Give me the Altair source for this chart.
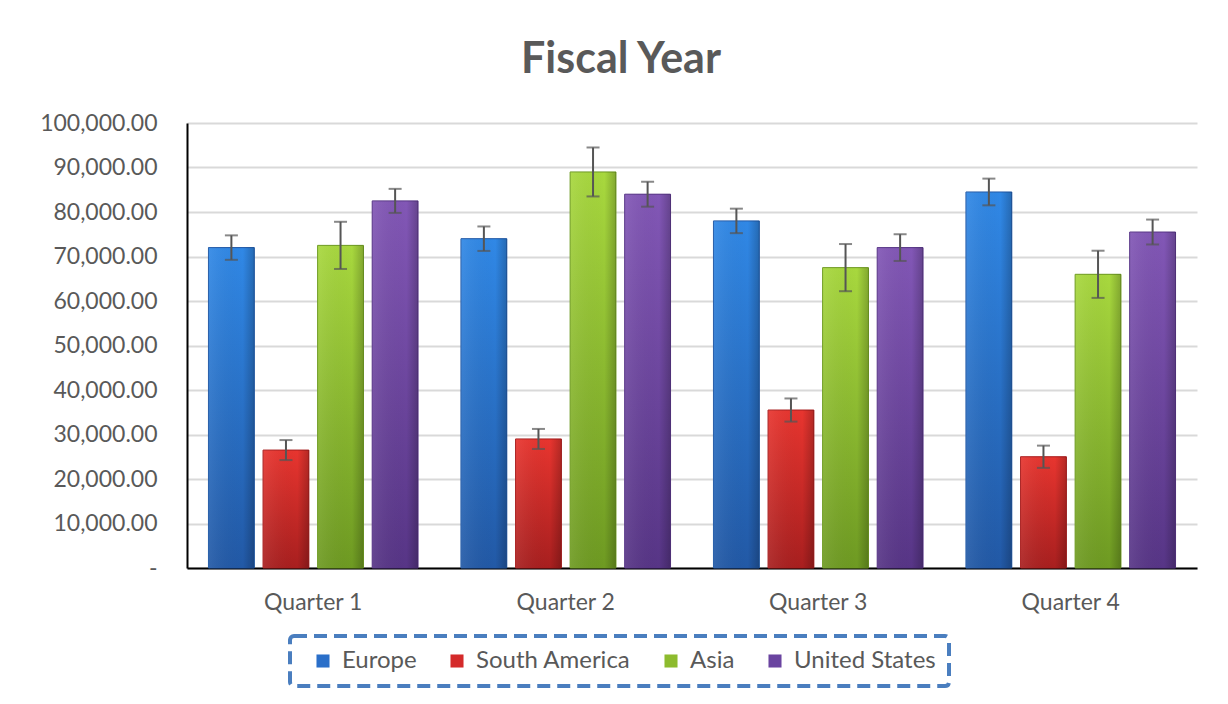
import altair as alt
import pandas as pd

quarters = ["Quarter 1", "Quarter 2", "Quarter 3", "Quarter 4"]
regions = ["Europe", "South America", "Asia", "United States"]

europe = [72000, 74000, 78000, 84500]
south_america = [26500, 29000, 35500, 25000]
asia = [72500, 89000, 67500, 66000]
united_states = [82500, 84000, 72000, 75500]

europe_err = [2750, 2750, 2750, 3000]
south_america_err = [2250, 2250, 2600, 2500]
asia_err = [5300, 5500, 5300, 5300]
united_states_err = [2700, 2800, 3000, 2800]

flat_colors = ["#2a6fc9", "#d42a2a", "#8dbb2e", "#6a44a0"]
grad_top = ["#3088e6", "#e8352f", "#a8d83e", "#8257b6"]
grad_bot = ["#2259a6", "#a81f1f", "#6e9a22", "#573586"]

series = [europe, south_america, asia, united_states]
errs = [europe_err, south_america_err, asia_err, united_states_err]

rows = []
for r, vals, ers in zip(regions, series, errs):
    for q, v, e in zip(quarters, vals, ers):
        rows.append({"quarter": q, "region": r, "value": v, "lo": v - e, "hi": v + e})
df = pd.DataFrame(rows)

FONT = "Lato"
TXT = "#595959"

x_enc = alt.X(
    "quarter:N",
    sort=quarters,
    scale=alt.Scale(paddingInner=0.17, paddingOuter=0.085),
    axis=alt.Axis(
        title=None, labelAngle=0, labelFontSize=23, labelColor=TXT, labelFont=FONT,
        labelPadding=23, ticks=False, domain=True, domainColor="#000000",
        domainWidth=2, grid=False,
    ),
)
xoff_enc = alt.XOffset("region:N", scale=alt.Scale(domain=regions, paddingInner=0.16, paddingOuter=0.0))

y_scale = alt.Scale(domain=[0, 100000])
y_axis = alt.Axis(
    title=None, values=list(range(0, 100001, 10000)),
    labelExpr="datum.value == 0 ? '-\u3000' : format(datum.value, ',.2f')",
    labelFontSize=23, labelColor=TXT, labelFont=FONT, labelPadding=30,
    ticks=False, domain=True, domainColor="#000000", domainWidth=2,
    grid=True, gridColor="#d9d9d9", gridWidth=2,
)

base = alt.Chart(df).encode(x=x_enc, xOffset=xoff_enc)

legend_layer = base.mark_bar().encode(
    y=alt.Y("value:Q", scale=y_scale, axis=y_axis),
    color=alt.Color(
        "region:N",
        scale=alt.Scale(domain=regions, range=flat_colors),
        legend=alt.Legend(
            title="\u2007", titleOrient="left", titleFontSize=24, titlePadding=8,
            orient="none", legendX=103, legendY=513, direction="horizontal",
            symbolType="square", symbolSize=170, symbolStrokeWidth=0,
            labelFontSize=24, labelColor=TXT, labelFont=FONT, labelOffset=7,
            columnPadding=28, padding=13, strokeColor="#4a7ebf", cornerRadius=4,
        ),
    ),
)

layers = [legend_layer]
for r, top, bot in zip(regions, grad_top, grad_bot):
    layers.append(
        base.transform_filter(alt.datum.region == r)
        .mark_bar(
            fill=alt.Gradient(
                gradient="linear", x1=0, x2=0, y1=0, y2=1,
                stops=[alt.GradientStop(offset=0, color=top), alt.GradientStop(offset=1, color=bot)],
            ),
            stroke=bot, strokeWidth=1,
        )
        .encode(y=alt.Y("value:Q", scale=y_scale))
    )

shade = base.mark_bar(
    fill=alt.Gradient(
        gradient="linear", x1=0, x2=1, y1=0, y2=0,
        stops=[
            alt.GradientStop(offset=0, color="rgba(255,255,255,0.08)"),
            alt.GradientStop(offset=0.75, color="rgba(0,0,0,0)"),
            alt.GradientStop(offset=1, color="rgba(0,0,0,0.22)"),
        ],
    ),
).encode(y=alt.Y("value:Q", scale=y_scale))
layers.append(shade)

rules = base.mark_rule(color="#555555", strokeWidth=2).encode(
    y=alt.Y("lo:Q", scale=y_scale), y2="hi:Q"
)
cap_lo = base.mark_tick(color="#555555", thickness=2, size=13).encode(y=alt.Y("lo:Q", scale=y_scale))
cap_hi = base.mark_tick(color="#555555", thickness=2, size=13).encode(y=alt.Y("hi:Q", scale=y_scale))
layers += [rules, cap_lo, cap_hi]

chart = (
    alt.layer(*layers)
    .properties(
        width=1010, height=445,
        title=alt.TitleParams(
            "Fiscal Year", fontSize=43, fontWeight="bold", color=TXT, font=FONT,
            anchor="middle", frame="group", offset=30, dx=-71,
        ),
        autosize=alt.AutoSizeParams(type="none"),
        padding={"left": 179, "top": 115, "right": 20, "bottom": 120},
        background="white",
    )
    .configure_view(stroke=None)
    .configure_legend(strokeDash=[13, 7], strokeWidth=4)
)

chart.save("out.html", embed_options={"renderer": "svg", "actions": False})
